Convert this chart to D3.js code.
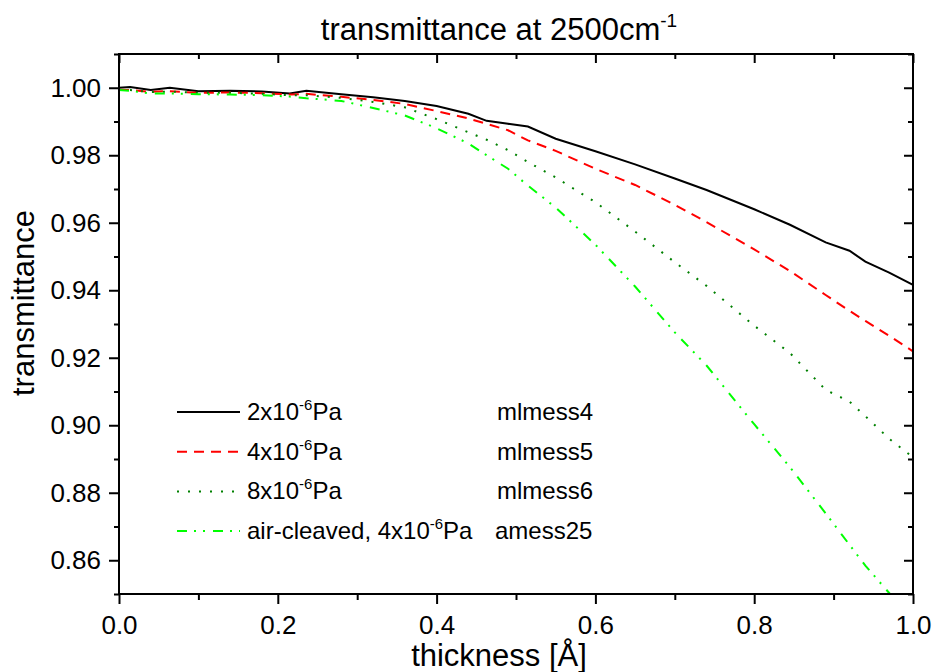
<!DOCTYPE html>
<html>
<head>
<meta charset="utf-8">
<script src="https://cdn.jsdelivr.net/npm/d3@7"></script>
<style>
  body { margin: 0; background: #fff; }
  text { font-family: "Liberation Sans", Arial, sans-serif; fill: #000; }
</style>
</head>
<body>
<div id="graph"></div>
<script>
// transmittance vs thickness, four samples

var thickness = [0, 0.014, 0.04, 0.064, 0.1, 0.14, 0.18, 0.215, 0.236, 0.28, 0.32, 0.36, 0.40, 0.44,
                 0.463, 0.49, 0.515, 0.55, 0.6, 0.65, 0.7, 0.74, 0.8, 0.845, 0.89, 0.92, 0.94, 0.97, 1.0];

var mlmess4 = [1.0000, 1.0002, 0.9993, 1.0000, 0.9990, 0.9991, 0.9989, 0.9983, 0.9991, 0.9981, 0.9972, 0.9961,
               0.9946, 0.9923, 0.9902, 0.9893, 0.9885, 0.9849, 0.9812, 0.9773, 0.9731, 0.9697, 0.9640, 0.9594,
               0.9542, 0.9517, 0.9485, 0.9452, 0.9416];
var mlmess5 = [0.9994, 0.9993, 0.9988, 0.9990, 0.9985, 0.9986, 0.9984, 0.9980, 0.9982, 0.9973, 0.9964, 0.9952,
               0.9931, 0.9909, 0.9893, 0.9874, 0.9844, 0.9813, 0.9760, 0.9712, 0.9653, 0.9602, 0.9521, 0.9457,
               0.9386, 0.9339, 0.9309, 0.9265, 0.9219];
var mlmess6 = [0.9994, 0.9993, 0.9987, 0.9989, 0.9985, 0.9985, 0.9982, 0.9978, 0.9978, 0.9970, 0.9958, 0.9942,
               0.9907, 0.9868, 0.9846, 0.9815, 0.9780, 0.9734, 0.9661, 0.9574, 0.9483, 0.9413, 0.9295, 0.9214,
               0.9105, 0.9070, 0.9027, 0.8960, 0.8905];
var amess25 = [0.9993, 0.9991, 0.9983, 0.9983, 0.9981, 0.9980, 0.9978, 0.9974, 0.9969, 0.9961, 0.9940, 0.9918,
               0.9880, 0.9835, 0.9800, 0.9760, 0.9710, 0.9645, 0.9535, 0.9411, 0.9275, 0.9177, 0.9003, 0.8876,
               0.8739, 0.8646, 0.8584, 0.8503, 0.8410];

var seriesNames = ["mlmess4", "mlmess5", "mlmess6", "amess25"];
var legendLabels = [["2x10", "-6", "Pa"], ["4x10", "-6", "Pa"], ["8x10", "-6", "Pa"], ["air-cleaved, 4x10", "-6", "Pa"]];
var xMajor = [0, 0.2, 0.4, 0.6, 0.8, 1.0];
var xMinor = [0.1, 0.3, 0.5, 0.7, 0.9];
var yMajor = [0.86, 0.88, 0.90, 0.92, 0.94, 0.96, 0.98, 1.00];
var yMinor = [0.85, 0.87, 0.89, 0.91, 0.93, 0.95, 0.97, 0.99, 1.01];

// plot box in page pixels (note: "top" is taken by window.top)
var width = 935, height = 672,
    boxL = 119, boxR = 913, boxT = 54, boxB = 594;

var x = d3.scaleLinear().domain([0, 1]).range([boxL, boxR]);
var y = d3.scaleLinear().domain([0.85, 1.01]).range([boxB, boxT]);

var svg = d3.select("#graph").append("svg")
    .attr("width", width)
    .attr("height", height);

svg.append("clipPath").attr("id", "clip")
  .append("rect")
    .attr("x", boxL).attr("y", boxT)
    .attr("width", boxR - boxL).attr("height", boxB - boxT);

var styles = [
    {"color": "#000000", "dash": null},
    {"color": "#ff0000", "dash": "10,7"},
    {"color": "#008000", "dash": "2,9"},
    {"color": "#00ff00", "dash": "10,7,2,7,2,8"}
];
var allSeries = [mlmess4, mlmess5, mlmess6, amess25];

var line = d3.line()
    .x((d) => x(d[0]))
    .y((d) => y(d[1]));

svg.append("g").attr("clip-path", "url(#clip)")
  .selectAll("path")
    .data(allSeries)
  .enter().append("path")
    .attr("d", (d) => line(d.map((v, i) => [thickness[i], v])))
    .attr("fill", "none")
    .attr("stroke", (d, i) => styles[i].color)
    .attr("stroke-width", 2)
    .attr("stroke-dasharray", (d, i) => styles[i].dash);

// axes: bottom/left outward, top/right inward
function styleAxis(g) {
    g.select(".domain").remove();
    g.selectAll(".tick line").attr("stroke", "#000").attr("stroke-width", 2);
    g.selectAll(".tick text").style("font-size", "26px").style("font-family", "'Liberation Sans', Arial, sans-serif");
}

svg.append("g").attr("transform", "translate(0," + boxB + ")")
    .call(d3.axisBottom(x).tickValues(xMajor).tickSize(10).tickPadding(12).tickFormat(d3.format(".1f")))
    .call(styleAxis);
svg.append("g").attr("transform", "translate(0," + boxB + ")")
    .call(d3.axisBottom(x).tickValues(xMinor).tickSize(6).tickFormat(""))
    .call(styleAxis);
svg.append("g").attr("transform", "translate(0," + boxT + ")")
    .call(d3.axisTop(x).tickValues(xMajor).tickSize(-9).tickFormat(""))
    .call(styleAxis);
svg.append("g").attr("transform", "translate(0," + boxT + ")")
    .call(d3.axisTop(x).tickValues(xMinor).tickSize(-5).tickFormat(""))
    .call(styleAxis);

svg.append("g").attr("transform", "translate(" + boxL + ",0)")
    .call(d3.axisLeft(y).tickValues(yMajor).tickSize(10).tickPadding(8).tickFormat(d3.format(".2f")))
    .call(styleAxis);
svg.append("g").attr("transform", "translate(" + boxL + ",0)")
    .call(d3.axisLeft(y).tickValues(yMinor).tickSize(5).tickFormat(""))
    .call(styleAxis);
svg.append("g").attr("transform", "translate(" + boxR + ",0)")
    .call(d3.axisRight(y).tickValues(yMajor).tickSize(-9).tickFormat(""))
    .call(styleAxis);
svg.append("g").attr("transform", "translate(" + boxR + ",0)")
    .call(d3.axisRight(y).tickValues(yMinor).tickSize(-5).tickFormat(""))
    .call(styleAxis);

svg.append("rect")
    .attr("x", boxL).attr("y", boxT)
    .attr("width", boxR - boxL).attr("height", boxB - boxT)
    .attr("fill", "none").attr("stroke", "#000").attr("stroke-width", 2);

// titles
var title = svg.append("text")
    .attr("x", 499).attr("y", 40)
    .attr("text-anchor", "middle")
    .style("font-size", "31px");
title.append("tspan").text("transmittance at 2500cm");
title.append("tspan").attr("dy", -13).style("font-size", "19px").text("-1");

svg.append("text")
    .attr("x", 499).attr("y", 666)
    .attr("text-anchor", "middle")
    .style("font-size", "31px")
    .text("thickness [Å]");

svg.append("text")
    .attr("transform", "translate(34,303) rotate(-90)")
    .attr("text-anchor", "middle")
    .style("font-size", "31px")
    .text("transmittance");

// legend
var legend = svg.append("g").selectAll("g")
    .data(seriesNames)
  .enter().append("g")
    .attr("transform", (d, i) => "translate(0," + (412 + i * 39.7) + ")");

legend.append("line")
    .attr("x1", 177).attr("x2", 240)
    .attr("y1", 0).attr("y2", 0)
    .attr("stroke", (d, i) => styles[i].color)
    .attr("stroke-width", 2)
    .attr("stroke-dasharray", (d, i) => styles[i].dash);

var lt = legend.append("text")
    .attr("x", 247).attr("y", 8)
    .style("font-size", "24px");
lt.append("tspan").text((d, i) => legendLabels[i][0]);
lt.append("tspan").attr("dy", -10).style("font-size", "15px").text((d, i) => legendLabels[i][1]);
lt.append("tspan").attr("dy", 10).text((d, i) => legendLabels[i][2]);

legend.append("text")
    .attr("x", (d, i) => i == 3 ? 495 : 497).attr("y", 8)
    .style("font-size", "24px")
    .text((d) => d);
</script>
</body>
</html>
